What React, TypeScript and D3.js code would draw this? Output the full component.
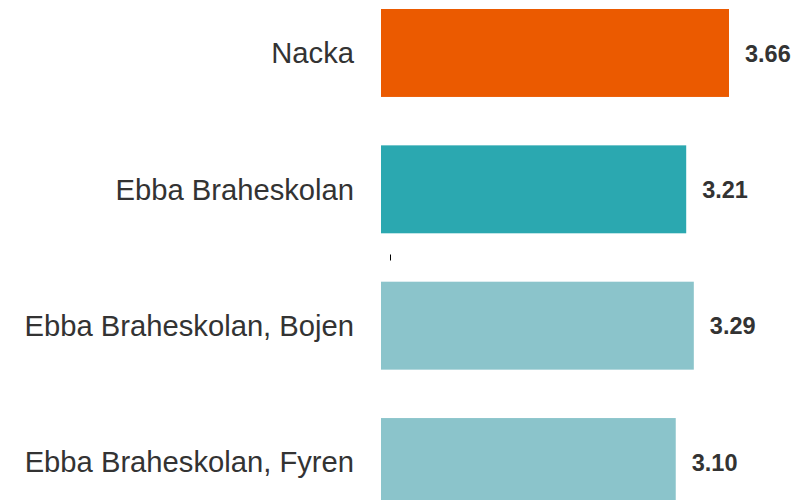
import React from "react";
import * as d3 from "d3";

const categories = ["Nacka", "Ebba Braheskolan", "Ebba Braheskolan, Bojen", "Ebba Braheskolan, Fyren"];
const values = [3.66, 3.21, 3.29, 3.1];
const colors = ["#EB5A00", "#2BA8B0", "#8BC4CB", "#8BC4CB"];

const W = 812;
const H = 500;

export default function App() {
  const x = d3.scaleLinear().domain([0, 1]).range([381, 381 + 95.08]);
  const y = d3.scaleBand<string>().domain(categories).range([9, 506]).paddingInner(0.355).paddingOuter(0);
  const font = "'Liberation Sans', Arial, Helvetica, sans-serif";
  const gapY = (y(categories[1])! + y.bandwidth() + y(categories[2])!) / 2;
  return (
    <svg width={W} height={H} style={{ position: "absolute", left: 0, top: 0, overflow: "hidden", background: "#fff" }}>
      {categories.map((c, i) => {
        const yc = y(c)! + y.bandwidth() / 2;
        return (
          <g key={c}>
            <rect x={x(0)} y={y(c)} width={x(values[i]) - x(0)} height={y.bandwidth()} fill={colors[i]} />
            <text x={354} y={yc} dy="0.35em" textAnchor="end" fontFamily={font} fontSize={29.2} fill="#333">
              {c}
            </text>
            <text x={x(values[i]) + 16} y={yc} dy="0.37em" textAnchor="start" fontFamily={font} fontSize={23.5} fontWeight="bold" fill="#333">
              {d3.format(".2f")(values[i])}
            </text>
          </g>
        );
      })}
      <line x1={390.5} x2={390.5} y1={gapY - 3} y2={gapY + 3} stroke="#000" strokeWidth={1} />
    </svg>
  );
}
